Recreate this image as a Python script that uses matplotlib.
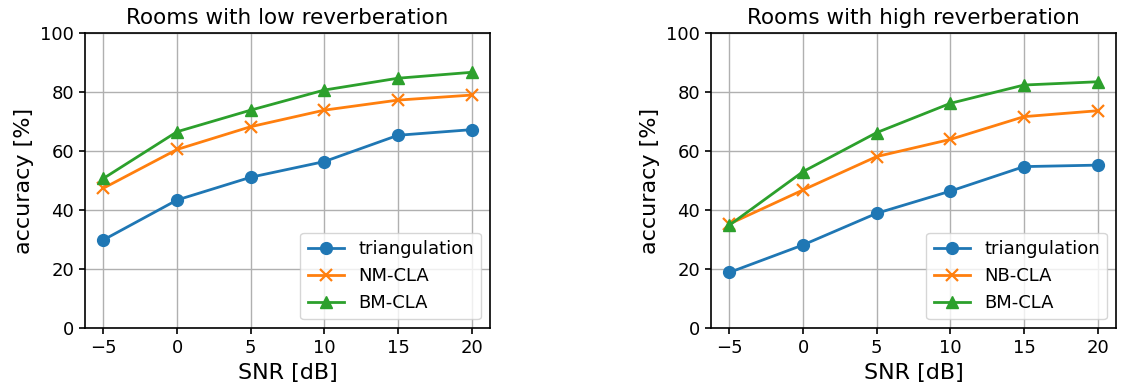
"""Accuracy vs SNR for low and high reverberation rooms."""
import matplotlib

matplotlib.use("Agg")
import matplotlib.pyplot as plt

SNR = [-5, 0, 5, 10, 15, 20]

# low reverberation
LOW_TRI = [29.9, 43.4, 51.1, 56.4, 65.3, 67.2]
LOW_NM = [47.4, 60.5, 68.2, 73.8, 77.2, 78.9]
LOW_BM = [50.7, 66.5, 73.8, 80.6, 84.6, 86.6]

# high reverberation
HIGH_TRI = [18.9, 28.2, 38.9, 46.4, 54.7, 55.2]
HIGH_NB = [35.3, 46.8, 58.1, 63.9, 71.6, 73.6]
HIGH_BM = [34.9, 53.0, 66.2, 76.1, 82.3, 83.4]

YTICKS = [0, 20, 40, 60, 80, 100]

plt.rcParams["axes.linewidth"] = 1.2
plt.rcParams["grid.linewidth"] = 1.0
plt.rcParams["xtick.major.width"] = 1.2
plt.rcParams["ytick.major.width"] = 1.2
plt.rcParams["xtick.major.size"] = 4.5
plt.rcParams["ytick.major.size"] = 4.5


def draw(ax, title, tri, mid, mid_label, bm):
    ax.plot(SNR, tri, "o-", color="tab:blue", lw=2, markersize=8.5, label="triangulation")
    ax.plot(SNR, mid, "x-", color="tab:orange", lw=2, markersize=8.5, mew=1.6, label=mid_label)
    ax.plot(SNR, bm, "^-", color="tab:green", lw=2, markersize=8.5, label="BM-CLA")
    ax.set_ylim(0, 100)
    ax.set_yticks(YTICKS)
    ax.set_xticks(SNR)
    ax.tick_params(labelsize=13)
    ax.grid(True)
    ax.set_title(title, fontsize=15.5)
    ax.set_xlabel("SNR [dB]", fontsize=16)
    ax.set_ylabel("accuracy [%]", fontsize=16)
    ax.legend(loc="lower right", fontsize=13)


fig = plt.figure(figsize=(11.21, 3.91), dpi=100)
ax1 = fig.add_axes([85 / 1121, 1 - 328.3 / 391, 405 / 1121, 295.6 / 391])
ax2 = fig.add_axes([711 / 1121, 1 - 328.3 / 391, 405 / 1121, 295.6 / 391])

draw(ax1, "Rooms with low reverberation", LOW_TRI, LOW_NM, "NM-CLA", LOW_BM)
draw(ax2, "Rooms with high reverberation", HIGH_TRI, HIGH_NB, "NB-CLA", HIGH_BM)

plt.savefig("out.png", dpi=100)
